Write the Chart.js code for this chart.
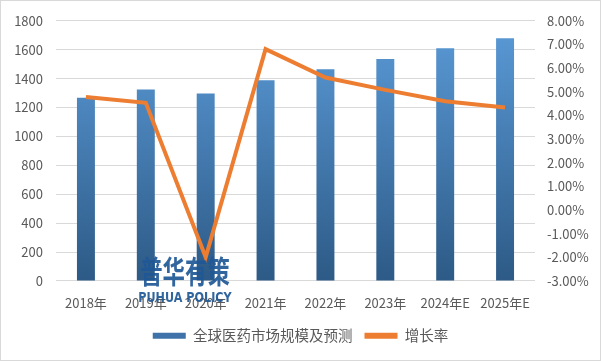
<!DOCTYPE html>
<html>
<head>
<meta charset="utf-8">
<script src="https://cdn.jsdelivr.net/npm/chart.js@4/dist/chart.umd.min.js"></script>
<style>
  html, body { margin: 0; padding: 0; background: #fff; }
  canvas { display: block; }
</style>
</head>
<body>
<canvas id="chart" width="601" height="361"></canvas>
<script>
// data
var years = ['2018年', '2019年', '2020年', '2021年', '2022年', '2023年', '2024年E', '2025年E'];
var marketSize = [1268, 1324, 1297, 1388, 1465, 1535, 1610, 1680];
var growthRate = [4.78, 4.53, -2.0, 6.8, 5.6, 5.08, 4.6, 4.33];
var leftTicks = [0, 200, 400, 600, 800, 1000, 1200, 1400, 1600, 1800];
var rightTicks = [-3, -2, -1, 0, 1, 2, 3, 4, 5, 6, 7, 8];

var FONT = '"Noto Sans CJK SC", "Noto Sans", sans-serif';
var GREY = '#595959';

function barGradient(ctx) {
  var chart = ctx.chart;
  var area = chart.chartArea;
  if (!area) return '#4a86c5';
  var g = chart.ctx.createLinearGradient(0, area.top, 0, area.bottom);
  g.addColorStop(0, '#5b9bd8');
  g.addColorStop(1, '#2d5a86');
  return g;
}

// frame + watermark
var extras = {
  id: 'extras',
  afterDraw: function (chart) {
    var c = chart.ctx;
    c.save();
    c.strokeStyle = '#d9d9d9';
    c.lineWidth = 1;
    c.strokeRect(0.5, 0.5, 600, 360);
    c.fillStyle = 'rgba(31, 88, 150, 0.92)';
    c.textAlign = 'center';
    c.textBaseline = 'middle';
    c.save();
    c.translate(185, 271);
    c.scale(0.8, 1.1);
    c.font = 'bold 28px ' + FONT;
    c.fillText('普华有策', 0, 0);
    c.restore();
    c.save();
    c.translate(185, 298);
    c.scale(0.8, 1);
    c.font = 'bold 14px "DejaVu Sans", sans-serif';
    c.fillText('PUHUA POLICY', 0, 0);
    c.restore();
    c.restore();
  }
};

var ctx = document.getElementById('chart').getContext('2d');
new Chart(ctx, {
  data: {
    labels: years,
    datasets: [
      {
        type: 'line',
        label: '增长率',
        data: growthRate,
        yAxisID: 'y1',
        borderColor: '#ed7d31',
        backgroundColor: '#ed7d31',
        borderWidth: 4,
        pointRadius: 0,
        tension: 0,
        order: 0
      },
      {
        type: 'bar',
        label: '全球医药市场规模及预测',
        data: marketSize,
        yAxisID: 'y',
        backgroundColor: barGradient,
        categoryPercentage: 1,
        barPercentage: 0.3,
        order: 1
      }
    ]
  },
  options: {
    responsive: false,
    animation: false,
    layout: { padding: { top: 18, left: 0, right: 0, bottom: 8 } },
    plugins: {
      tooltip: { enabled: false },
      legend: {
        position: 'bottom',
        reverse: true,
        labels: {
          color: GREY,
          font: { family: FONT, size: 14.5 },
          boxWidth: 33,
          boxHeight: 6,
          padding: 12,
          generateLabels: function (chart) {
            return chart.data.datasets.map(function (ds, i) {
              return {
                text: ds.label,
                fillStyle: ds.type === 'bar' ? '#3e72a8' : '#ed7d31',
                strokeStyle: 'rgba(0,0,0,0)',
                lineWidth: 0,
                datasetIndex: i,
                fontColor: GREY
              };
            });
          }
        }
      }
    },
    scales: {
      x: {
        grid: { display: false },
        border: { display: false },
        ticks: { color: GREY, font: { family: FONT, size: 13 }, padding: 6, maxRotation: 0, autoSkip: false }
      },
      y: {
        position: 'left',
        min: 0,
        max: 1800,
        afterBuildTicks: function (s) { s.ticks = leftTicks.map(function (v) { return { value: v }; }); },
        afterFit: function (s) { s.width = 56; },
        grid: { color: '#d9d9d9', drawTicks: false },
        border: { display: false },
        ticks: {
          color: GREY,
          font: { family: FONT, size: 13 },
          padding: 13,
          callback: function (v) { return String(v); }
        }
      },
      y1: {
        position: 'right',
        min: -3,
        max: 8,
        afterBuildTicks: function (s) { s.ticks = rightTicks.map(function (v) { return { value: v }; }); },
        afterFit: function (s) { s.width = 66; },
        grid: { display: false, drawTicks: false },
        border: { display: false },
        ticks: {
          color: GREY,
          font: { family: FONT, size: 13 },
          padding: 12,
          callback: function (v) { return v.toFixed(2) + '%'; }
        }
      }
    }
  },
  plugins: [extras]
});
</script>
</body>
</html>
